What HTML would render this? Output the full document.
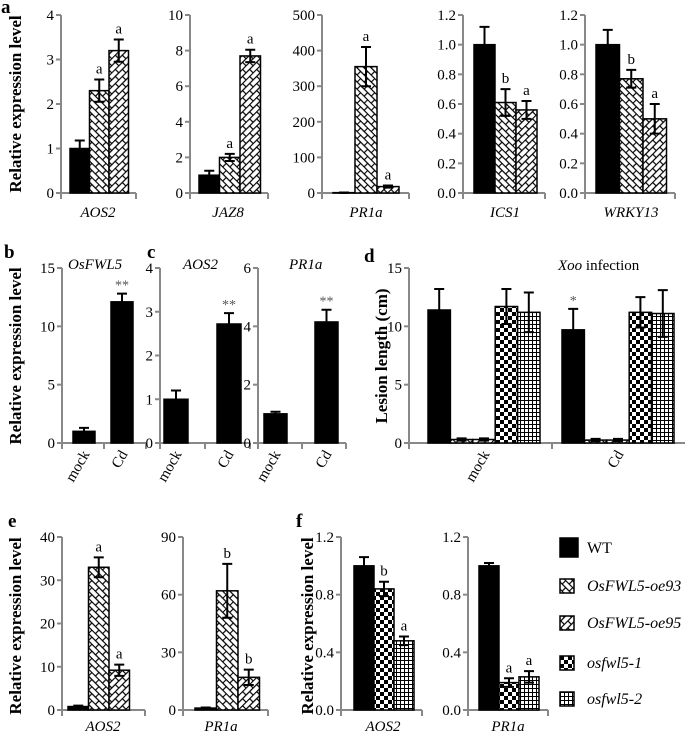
<!DOCTYPE html>
<html><head><meta charset="utf-8"><style>
body{margin:0;background:#fff}
svg, svg text{font-family:"Liberation Serif","Times New Roman",serif}
</style></head><body>
<svg id="fig" width="685" height="733" viewBox="0 0 685 733" xmlns="http://www.w3.org/2000/svg" font-family="Liberation Serif, serif">
<defs>
<pattern id="p-oe93" width="10" height="10" patternUnits="userSpaceOnUse" patternTransform="rotate(45)">
<rect width="10" height="10" fill="#fff"/><path d="M0 0.5H10M0 5.5H10M0.5 0V5.5M5.5 5.5V10" stroke="#000" stroke-width="1.2" fill="none"/></pattern>
<pattern id="p-oe95" width="10" height="10" patternUnits="userSpaceOnUse" patternTransform="rotate(-45)">
<rect width="10" height="10" fill="#fff"/><path d="M0 0.5H10M0 5.5H10M2.5 0V5.5M7.5 5.5V10" stroke="#000" stroke-width="1.2" fill="none"/></pattern>
<pattern id="p-ko1" width="8" height="8" patternUnits="userSpaceOnUse">
<rect width="8" height="8" fill="#fff"/><rect width="4" height="4" fill="#000"/><rect x="4" y="4" width="4" height="4" fill="#000"/></pattern>
<pattern id="p-ko2" width="4" height="4" patternUnits="userSpaceOnUse">
<rect width="4" height="4" fill="#fff"/><path d="M0 0.5H4M0.5 0V4" stroke="#000" stroke-width="1"/></pattern>
</defs>
<g id="root" font-family="Liberation Serif, serif"></g>
</svg>
<script>
// ---- data ----
const aGenes = ['AOS2','JAZ8','PR1a','ICS1','WRKY13'];
const aAOS2Vals = [1.0, 2.3, 3.2];   const aAOS2Errs = [0.18, 0.25, 0.25]; const aAOS2Sig = ['', 'a', 'a'];
const aJAZ8Vals = [1.0, 2.0, 7.7];   const aJAZ8Errs = [0.25, 0.2, 0.35];  const aJAZ8Sig = ['', 'a', 'a'];
const aPR1aVals = [1, 355, 18];      const aPR1aErrs = [0.5, 55, 3];       const aPR1aSig = ['', 'a', 'a'];
const aICS1Vals = [1.0, 0.61, 0.56]; const aICS1Errs = [0.12, 0.09, 0.06]; const aICS1Sig = ['', 'b', 'a'];
const aWRKY13Vals = [1.0, 0.77, 0.5];const aWRKY13Errs = [0.1, 0.06, 0.1]; const aWRKY13Sig = ['', 'b', 'a'];
const bcCategories = ['mock','Cd'];
const bFWL5Vals = [1.0, 12.1]; const bFWL5Errs = [0.3, 0.7]; const bFWL5Sig = ['', '**'];
const cAOS2Vals = [1.0, 2.72]; const cAOS2Errs = [0.2, 0.25]; const cAOS2Sig = ['', '**'];
const cPR1aVals = [1.0, 4.15]; const cPR1aErrs = [0.07, 0.42]; const cPR1aSig = ['', '**'];
const dCategories = ['mock','Cd'];
const dMockVals = [11.4, 0.3, 0.3, 11.7, 11.2]; const dMockErrs = [1.8, 0.1, 0.1, 1.5, 1.7]; const dMockSig = ['', '', '', '', ''];
const dCdVals = [9.7, 0.25, 0.25, 11.2, 11.1];  const dCdErrs = [1.8, 0.1, 0.1, 1.3, 2.0];    const dCdSig = ['*', '', '', '', ''];
const eAOS2Vals = [0.8, 33, 9.2];  const eAOS2Errs = [0.2, 2.3, 1.3]; const eAOS2Sig = ['', 'a', 'a'];
const ePR1aVals = [1, 62, 17];     const ePR1aErrs = [0.3, 14, 4];    const ePR1aSig = ['', 'b', 'b'];
const fAOS2Vals = [1.0, 0.84, 0.48]; const fAOS2Errs = [0.06, 0.05, 0.03]; const fAOS2Sig = ['', 'b', 'a'];
const fPR1aVals = [1.0, 0.19, 0.23]; const fPR1aErrs = [0.02, 0.03, 0.04]; const fPR1aSig = ['', 'a', 'a'];
const legendLabels = ['WT','OsFWL5-oe93','OsFWL5-oe95','osfwl5-1','osfwl5-2'];

// ---- helpers ----
const NS = 'http://www.w3.org/2000/svg';
const root = document.getElementById('root');
const FF = 'Liberation Serif, Times New Roman, serif';
const fills = {wt:'#000', oe93:'url(#p-oe93)', oe95:'url(#p-oe95)', ko1:'url(#p-ko1)', ko2:'url(#p-ko2)'};
function mk(tag, attrs, parent){const e=document.createElementNS(NS,tag);for(const k in attrs)e.setAttribute(k,attrs[k]);(parent||root).appendChild(e);return e;}
function txt(x,y,s,attrs,parent){const t=mk('text',Object.assign({x:x,y:y,'font-family':FF},attrs||{}),parent);t.textContent=s;return t;}

function panel(cfg){
  const g = mk('g',{});
  
  
  const ys = v => cfg.y0 - v/cfg.max*(cfg.y0-cfg.yTop);
  const pitch = cfg.pitch || cfg.bw;
  for(let v=0; v<=cfg.max+1e-9; v+=cfg.step){
    const y=ys(v);
    mk('line',{x1:cfg.ax-5,x2:cfg.ax,y1:y,y2:y,stroke:'#888','stroke-width':2},g);
    const t=txt(cfg.ax-7,y+5,cfg.dec?v.toFixed(cfg.dec):String(Math.round(v)),{'text-anchor':'end','font-size':15},g);
    
    
  }
  const axis=mk('path',{d:`M${cfg.ax} ${cfg.yTop}V${cfg.y0}H${cfg.axEnd}`,stroke:'#888','stroke-width':2,fill:'none'},g);
  
  
  (cfg.xticks||[cfg.ax,cfg.axEnd]).forEach(x=>mk('line',{x1:x,x2:x,y1:cfg.y0,y2:cfg.y0+6,stroke:'#888','stroke-width':2},g));
  cfg.groups.forEach(gr=>{
    gr.vals.forEach((v,i)=>{
      const x=gr.x+i*pitch, y=ys(v), type=gr.types[i];
      const r=mk('rect',{x:x,y:y,width:cfg.bw,height:cfg.y0-y,fill:fills[type],stroke:'#000','stroke-width':1.5},g);
      
      
      const e=gr.errs[i], cx=x+cfg.bw/2, yh=ys(v+e), yl=ys(Math.max(0,v-e));
      mk('path',{d:`M${cx} ${yl}V${yh}M${cx-5} ${yh}H${cx+5}M${cx-5} ${yl}H${cx+5}`,stroke:'#000','stroke-width':2},g);
      if(gr.sig[i]){
        const star=gr.sig[i].includes('*');
        const s=txt(cx,yh-(star?4:6),gr.sig[i],{'text-anchor':'middle','font-size':star?14:15,fill:star?'#555':'#000'},g);
        
        
      }
    });
  });
  return g;
}

// ---- panel a ----
const aTypes=['wt','oe93','oe95'];
panel({name:'panel-a-aos2',ax:61,axEnd:136,yTop:15,y0:193,max:4,step:1,bw:19.5,groups:[{x:70,vals:aAOS2Vals,errs:aAOS2Errs,sig:aAOS2Sig,types:aTypes}]});
panel({name:'panel-a-jaz8',ax:190,axEnd:268,yTop:15,y0:193,max:10,step:2,bw:20.5,groups:[{x:199,vals:aJAZ8Vals,errs:aJAZ8Errs,sig:aJAZ8Sig,types:aTypes}]});
panel({name:'panel-a-pr1a',ax:322,axEnd:409,yTop:15,y0:193,max:500,step:100,bw:22,groups:[{x:333,vals:aPR1aVals,errs:aPR1aErrs,sig:aPR1aSig,types:aTypes}]});
panel({name:'panel-a-ics1',ax:463,axEnd:545,yTop:15,y0:193,max:1.2,step:0.2,dec:1,bw:21,groups:[{x:474,vals:aICS1Vals,errs:aICS1Errs,sig:aICS1Sig,types:aTypes}]});
panel({name:'panel-a-wrky13',ax:585,axEnd:675,yTop:15,y0:193,max:1.2,step:0.2,dec:1,bw:23.5,groups:[{x:596,vals:aWRKY13Vals,errs:aWRKY13Errs,sig:aWRKY13Sig,types:aTypes}]});
[[98,aGenes[0]],[228,aGenes[1]],[366,aGenes[2]],[505,aGenes[3]],[631,aGenes[4]]].forEach(([x,s])=>{
  const t=txt(x,217,s,{'text-anchor':'middle','font-size':15,'font-style':'italic'});
  
  
});

// ---- panel b & c ----
const bcTypes=['wt','wt'];
panel({name:'panel-b-osfwl5',ax:62,axEnd:146,yTop:268,y0:443,max:15,step:5,bw:22,pitch:38,groups:[{x:73,vals:bFWL5Vals,errs:bFWL5Errs,sig:bFWL5Sig,types:bcTypes}],xticks:[62,104,146]});
panel({name:'panel-c-aos2',ax:160,axEnd:250,yTop:268,y0:443,max:4,step:1,bw:24,pitch:53,groups:[{x:164,vals:cAOS2Vals,errs:cAOS2Errs,sig:cAOS2Sig,types:bcTypes}],xticks:[160,205,250]});
panel({name:'panel-c-pr1a',ax:258,axEnd:346,yTop:268,y0:443,max:6,step:2,bw:23,pitch:51,groups:[{x:264,vals:cPR1aVals,errs:cPR1aErrs,sig:cPR1aSig,types:bcTypes}],xticks:[258,302,346]});
[[84,'mock'],[122,'Cd'],[176,'mock'],[228,'Cd'],[275,'mock'],[326,'Cd']].forEach(([x,s])=>{
  const t=txt(x+6,454,s,{'text-anchor':'end','font-size':15,transform:`rotate(-60 ${x+6} 454)`});
  
  
});
[[68,'OsFWL5'],[183,'AOS2'],[289,'PR1a']].forEach(([x,s])=>{
  const t=txt(x,269,s,{'font-size':15,'font-style':'italic'});
  
  
});

// ---- panel d ----
const dTypes=['wt','oe93','oe95','ko1','ko2'];
panel({name:'panel-d-lesion',ax:409,axEnd:685,yTop:268,y0:443,max:15,step:5,bw:22.4,groups:[
  {x:428,vals:dMockVals,errs:dMockErrs,sig:dMockSig,types:dTypes},
  {x:562,vals:dCdVals,errs:dCdErrs,sig:dCdSig,types:dTypes}],xticks:[409,552]});
[[490,dCategories[0]],[624,dCategories[1]]].forEach(([x,s])=>{
  const t=txt(x,454,s,{'text-anchor':'end','font-size':15,transform:`rotate(-60 ${x} 454)`});
  
  
});
const xoo=txt(558,270,'',{'font-size':15});


xoo.innerHTML='<tspan font-style="italic">Xoo</tspan> infection';

// ---- panel e ----
panel({name:'panel-e-aos2',ax:62,axEnd:145,yTop:537,y0:710,max:40,step:10,bw:20.5,groups:[{x:68,vals:eAOS2Vals,errs:eAOS2Errs,sig:eAOS2Sig,types:aTypes}]});
panel({name:'panel-e-pr1a',ax:183,axEnd:268,yTop:537,y0:710,max:90,step:30,bw:21.5,groups:[{x:195,vals:ePR1aVals,errs:ePR1aErrs,sig:ePR1aSig,types:aTypes}]});

// ---- panel f ----
const fTypes=['wt','ko1','ko2'];
panel({name:'panel-f-aos2',ax:341,axEnd:422,yTop:537,y0:710,max:1.2,step:0.4,dec:1,bw:20,groups:[{x:354,vals:fAOS2Vals,errs:fAOS2Errs,sig:fAOS2Sig,types:fTypes}]});
panel({name:'panel-f-pr1a',ax:468,axEnd:548,yTop:537,y0:710,max:1.2,step:0.4,dec:1,bw:20,groups:[{x:479,vals:fPR1aVals,errs:fPR1aErrs,sig:fPR1aSig,types:fTypes}]});
[[103,'AOS2'],[221,'PR1a'],[383,'AOS2'],[508,'PR1a']].forEach(([x,s])=>{
  const t=txt(x,731,s,{'text-anchor':'middle','font-size':15,'font-style':'italic'});
  
  
});

// ---- y axis titles ----
[[21,104,'Relative expression level'],[21,356,'Relative expression level'],[21,626,'Relative expression level'],[313,626,'Relative expression level'],[387,356,'Lesion length (cm)']].forEach(([x,y,s])=>{
  const t=txt(x,y,s,{'text-anchor':'middle','font-size':17,'font-weight':'bold',transform:`rotate(-90 ${x} ${y})`});
  
  
});

// ---- panel letters ----
[[1,13,'a'],[4,258,'b'],[147,258,'c'],[364,262,'d'],[8,527,'e'],[296,527,'f']].forEach(([x,y,s])=>{
  const t=txt(x,y,s,{'font-size':19,'font-weight':'bold'});
  
  
});

// ---- legend ----
const lg=mk('g',{});


const lTypes=['wt','oe93','oe95','ko1','ko2'];
legendLabels.forEach((s,i)=>{
  const y=[548,586,623,663,699][i];
  const big=i===0;
  const r=mk('rect',{x:560,y:big?y-10:y-7,width:big?18:14,height:big?19:14,fill:fills[lTypes[i]],stroke:'#000','stroke-width':1.5},lg);
  
  
  const t=txt(587,y+5,s,{'font-size':16,'font-style':i===0?'normal':'italic'},lg);
  
  
});
</script>
</body></html>
